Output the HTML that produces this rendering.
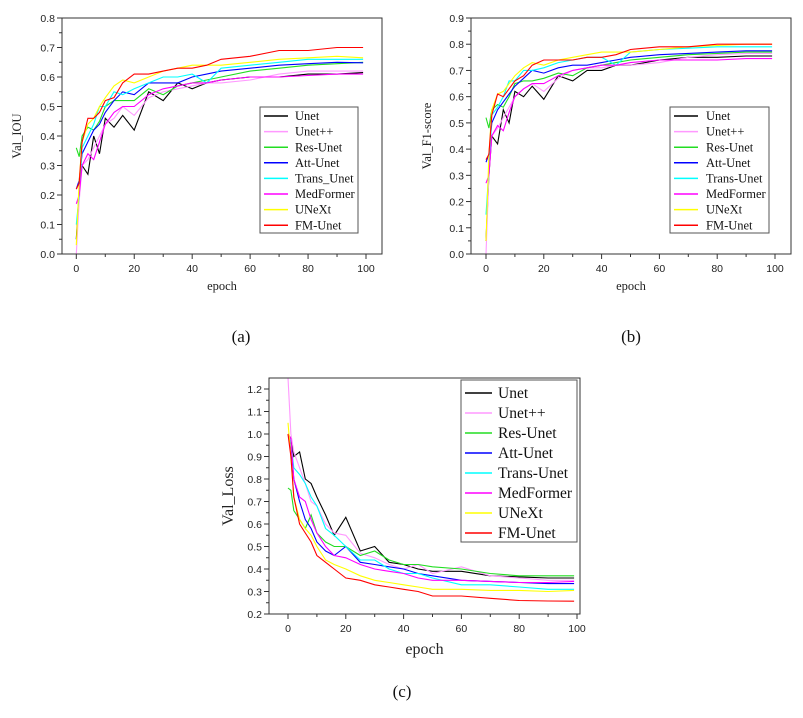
<!DOCTYPE html>
<html><head><meta charset="utf-8"><style>
body{margin:0;background:#fff;width:803px;height:718px;overflow:hidden}
svg{display:block}
text{font-family:"Liberation Sans",sans-serif}
.serif{font-family:"Liberation Serif",serif}
</style></head><body>
<svg id="fig" width="803" height="718" viewBox="0 0 803 718"></svg>
<script>
const epochs=[0,1,2,4,6,8,10,13,16,20,25,30,35,40,45,50,60,70,80,90,99];
const iouUnet=[0.05,0.22,0.30,0.27,0.40,0.34,0.46,0.43,0.47,0.42,0.55,0.52,0.58,0.56,0.58,0.59,0.60,0.60,0.61,0.61,0.615];
const iouUnetpp=[0.0,0.18,0.30,0.32,0.36,0.40,0.44,0.46,0.50,0.47,0.53,0.55,0.56,0.57,0.58,0.58,0.59,0.61,0.62,0.62,0.62];
const iouRes=[0.36,0.33,0.40,0.43,0.42,0.45,0.50,0.52,0.52,0.52,0.56,0.54,0.57,0.58,0.59,0.60,0.62,0.63,0.64,0.645,0.65];
const iouAtt=[0.22,0.25,0.34,0.38,0.42,0.44,0.48,0.52,0.55,0.54,0.58,0.58,0.58,0.60,0.61,0.62,0.63,0.64,0.645,0.65,0.648];
const iouTrans=[0.10,0.20,0.36,0.40,0.44,0.50,0.50,0.55,0.54,0.56,0.58,0.60,0.60,0.61,0.58,0.63,0.64,0.65,0.66,0.66,0.66];
const iouMed=[0.17,0.20,0.30,0.34,0.32,0.38,0.44,0.48,0.50,0.50,0.54,0.56,0.57,0.58,0.58,0.59,0.60,0.60,0.605,0.61,0.61];
const iouUnext=[0.03,0.25,0.38,0.44,0.46,0.50,0.53,0.57,0.59,0.58,0.60,0.62,0.63,0.64,0.64,0.64,0.65,0.66,0.665,0.67,0.665];
const iouFM=[0.22,0.24,0.38,0.46,0.46,0.48,0.52,0.53,0.58,0.61,0.61,0.62,0.63,0.63,0.64,0.66,0.67,0.69,0.69,0.70,0.70];
const f1Unet=[0.05,0.30,0.45,0.42,0.55,0.50,0.62,0.60,0.64,0.59,0.68,0.66,0.70,0.70,0.72,0.72,0.74,0.75,0.75,0.755,0.755];
const f1Unetpp=[0.0,0.30,0.45,0.48,0.52,0.56,0.60,0.63,0.65,0.62,0.67,0.70,0.71,0.71,0.72,0.72,0.73,0.75,0.76,0.765,0.765];
const f1Res=[0.52,0.48,0.55,0.57,0.56,0.60,0.65,0.66,0.66,0.67,0.69,0.68,0.71,0.72,0.73,0.74,0.75,0.76,0.765,0.77,0.77];
const f1Att=[0.35,0.38,0.50,0.55,0.58,0.61,0.64,0.67,0.70,0.69,0.71,0.72,0.72,0.73,0.74,0.75,0.76,0.765,0.77,0.775,0.775];
const f1Trans=[0.15,0.32,0.53,0.56,0.60,0.66,0.66,0.70,0.70,0.71,0.73,0.74,0.75,0.75,0.72,0.77,0.78,0.785,0.79,0.79,0.79];
const f1Med=[0.27,0.30,0.45,0.49,0.47,0.54,0.60,0.63,0.65,0.65,0.68,0.70,0.71,0.72,0.72,0.73,0.74,0.74,0.74,0.745,0.745];
const f1Unext=[0.05,0.38,0.55,0.61,0.62,0.65,0.68,0.71,0.73,0.72,0.74,0.75,0.76,0.77,0.77,0.77,0.78,0.79,0.795,0.80,0.80];
const f1FM=[0.36,0.38,0.53,0.61,0.60,0.63,0.66,0.68,0.72,0.74,0.74,0.74,0.75,0.75,0.76,0.78,0.79,0.79,0.80,0.80,0.80];
const lossUnet=[1.0,0.98,0.90,0.92,0.80,0.78,0.72,0.64,0.55,0.63,0.48,0.50,0.43,0.42,0.40,0.39,0.39,0.37,0.365,0.36,0.36];
const lossUnetpp=[1.25,1.0,0.92,0.85,0.78,0.70,0.68,0.60,0.56,0.55,0.47,0.45,0.42,0.40,0.42,0.38,0.41,0.37,0.36,0.35,0.35];
const lossRes=[0.76,0.75,0.66,0.62,0.58,0.64,0.56,0.52,0.50,0.50,0.46,0.48,0.44,0.42,0.42,0.41,0.40,0.38,0.37,0.37,0.37];
const lossAtt=[1.0,0.95,0.80,0.70,0.62,0.58,0.52,0.48,0.46,0.50,0.43,0.42,0.41,0.40,0.38,0.37,0.35,0.345,0.34,0.335,0.335];
const lossTrans=[1.0,0.96,0.85,0.82,0.78,0.72,0.68,0.58,0.55,0.50,0.44,0.44,0.40,0.38,0.38,0.36,0.33,0.33,0.32,0.31,0.31];
const lossMed=[1.0,0.98,0.80,0.72,0.70,0.62,0.56,0.50,0.46,0.45,0.42,0.40,0.39,0.38,0.36,0.35,0.35,0.345,0.34,0.34,0.345];
const lossUnext=[1.05,0.90,0.72,0.62,0.58,0.55,0.50,0.44,0.42,0.40,0.37,0.35,0.34,0.33,0.32,0.31,0.31,0.305,0.305,0.30,0.305];
const lossFM=[1.0,0.90,0.72,0.60,0.56,0.52,0.46,0.43,0.40,0.36,0.35,0.33,0.32,0.31,0.30,0.28,0.28,0.27,0.26,0.258,0.257];
const xTicks=[0,20,40,60,80,100];
const iouTicks=[0,0.1,0.2,0.3,0.4,0.5,0.6,0.7,0.8];
const f1Ticks=[0,0.1,0.2,0.3,0.4,0.5,0.6,0.7,0.8,0.9];
const lossTicks=[0.2,0.3,0.4,0.5,0.6,0.7,0.8,0.9,1.0,1.1,1.2];
const namesAB=["Unet","Unet++","Res-Unet","Att-Unet","Trans_Unet","MedFormer","UNeXt","FM-Unet"];
const namesB=["Unet","Unet++","Res-Unet","Att-Unet","Trans-Unet","MedFormer","UNeXt","FM-Unet"];
const colors=["#000000","#ff99ff","#22dd22","#0000ff","#00ffff","#ff00ff","#ffff00","#ff0000"];

const NS="http://www.w3.org/2000/svg";
const fig=document.getElementById('fig');
function mk(tag,parent,attrs){const e=document.createElementNS(NS,tag);for(const k in attrs)e.setAttribute(k,attrs[k]);parent.appendChild(e);return e;}

function chart(c){
  const g=mk('g',fig,{});
  
  
  const xs=v=>c.x0+(v-0)/100*(c.x100-c.x0);
  const ys=v=>c.yB+(v-c.vB)/(c.vT-c.vB)*(c.yT-c.yB);
  // series
  c.series.forEach((s,i)=>{
    const p=mk('polyline',g,{fill:'none',stroke:colors[i],'stroke-width':1.1,points:epochs.map((e,j)=>xs(e).toFixed(1)+','+ys(s[j]).toFixed(1)).join(' ')});
    
    
  });
  // frame
  const fr=mk('rect',g,{x:c.L,y:c.T,width:c.R-c.L,height:c.B-c.T,fill:'none',stroke:'#333','stroke-width':1});
  
  
  // x ticks
  xTicks.forEach(v=>{
    const X=xs(v);
    mk('line',g,{x1:X,x2:X,y1:c.B,y2:c.B+5,stroke:'#333'});
    const t=mk('text',g,{x:X,y:c.B+18,'text-anchor':'middle','font-size':c.fs,fill:'#222'});
    t.textContent=v;
    
    
    if(v<100){const Xm=xs(v+10);mk('line',g,{x1:Xm,x2:Xm,y1:c.B,y2:c.B+3,stroke:'#333'});}
  });
  c.ticks.forEach((v,k)=>{
    const Y=ys(v);
    mk('line',g,{x1:c.L-5,x2:c.L,y1:Y,y2:Y,stroke:'#333'});
    const t=mk('text',g,{x:c.L-7,y:Y+4,'text-anchor':'end','font-size':c.fs,fill:'#222'});
    t.textContent=v.toFixed(1);
    
    
    const Ym=ys(v+0.05);
    if(Ym>c.T) mk('line',g,{x1:c.L-3,x2:c.L,y1:Ym,y2:Ym,stroke:'#333'});
    if(k==0){const Yn=ys(v-0.05); if(Yn<c.B) mk('line',g,{x1:c.L-3,x2:c.L,y1:Yn,y2:Yn,stroke:'#333'});}
  });
  const xt=mk('text',g,{x:(c.L+c.R)/2,y:c.B+c.xlOff,'text-anchor':'middle','font-size':c.lfs,class:'serif',fill:'#222'});
  xt.textContent='epoch';
  
  
  const yt=mk('text',g,{x:0,y:0,'text-anchor':'middle','font-size':c.lfs,class:'serif',fill:'#222',transform:'translate('+c.ylX+','+((c.T+c.B)/2)+') rotate(-90)'});
  yt.textContent=c.ylabel;
  
  
  // legend
  const lg=mk('g',g,{});
  
  
  mk('rect',lg,{x:c.lx,y:c.ly,width:c.lw,height:c.lh,fill:'#fff',stroke:'#555'});
  c.names.forEach((n,i)=>{
    const Y=c.ly0+i*c.lsp;
    const e=mk('g',lg,{});
    
    
    mk('line',e,{x1:c.lx+4,x2:c.lx+4+c.llen,y1:Y,y2:Y,stroke:colors[i],'stroke-width':1.5});
    const t=mk('text',e,{x:c.lx+c.ltx,y:Y+c.lfsz*0.33,'font-size':c.lfsz,class:'serif',fill:'#111'});
    t.textContent=n;
  });
  const cap=mk('text',fig,{x:c.capX,y:c.capY,'text-anchor':'middle','font-size':17,class:'serif',fill:'#111'});
  cap.textContent=c.cap;
  
  
}
chart({id:'iou',L:62,R:382,T:18,B:254,x0:76.3,x100:366,vB:0,vT:0.8,yB:254,yT:18,ticks:iouTicks,
  series:[iouUnet,iouUnetpp,iouRes,iouAtt,iouTrans,iouMed,iouUnext,iouFM],names:namesAB,
  fs:10.5,lfs:12.5,xlOff:36,ylX:21,ylabel:'Val_IOU',
  lx:260,ly:107,lw:98,lh:126,ly0:116,lsp:15.6,llen:24,ltx:35,lfsz:12.5,cap:'(a)',capX:241,capY:342});
chart({id:'f1',L:471,R:791,T:18,B:254,x0:486,x100:775,vB:0,vT:0.9,yB:254,yT:18,ticks:f1Ticks,
  series:[f1Unet,f1Unetpp,f1Res,f1Att,f1Trans,f1Med,f1Unext,f1FM],names:namesB,
  fs:10.5,lfs:12.5,xlOff:36,ylX:431,ylabel:'Val_F1-score',
  lx:670,ly:107,lw:99,lh:126,ly0:116,lsp:15.6,llen:24,ltx:36,lfsz:12.5,cap:'(b)',capX:631,capY:342});
chart({id:'loss',L:269,R:580,T:378,B:614,x0:288,x100:577,vB:0.2,vT:1.2,yB:614,yT:389,ticks:lossTicks,
  series:[lossUnet,lossUnetpp,lossRes,lossAtt,lossTrans,lossMed,lossUnext,lossFM],names:namesB,
  fs:10.5,lfs:16,xlOff:40,ylX:233,ylabel:'Val_Loss',
  lx:461,ly:380,lw:116,lh:162,ly0:393,lsp:20,llen:27,ltx:37,lfsz:15.5,cap:'(c)',capX:402,capY:697});
</script>
</body></html>
